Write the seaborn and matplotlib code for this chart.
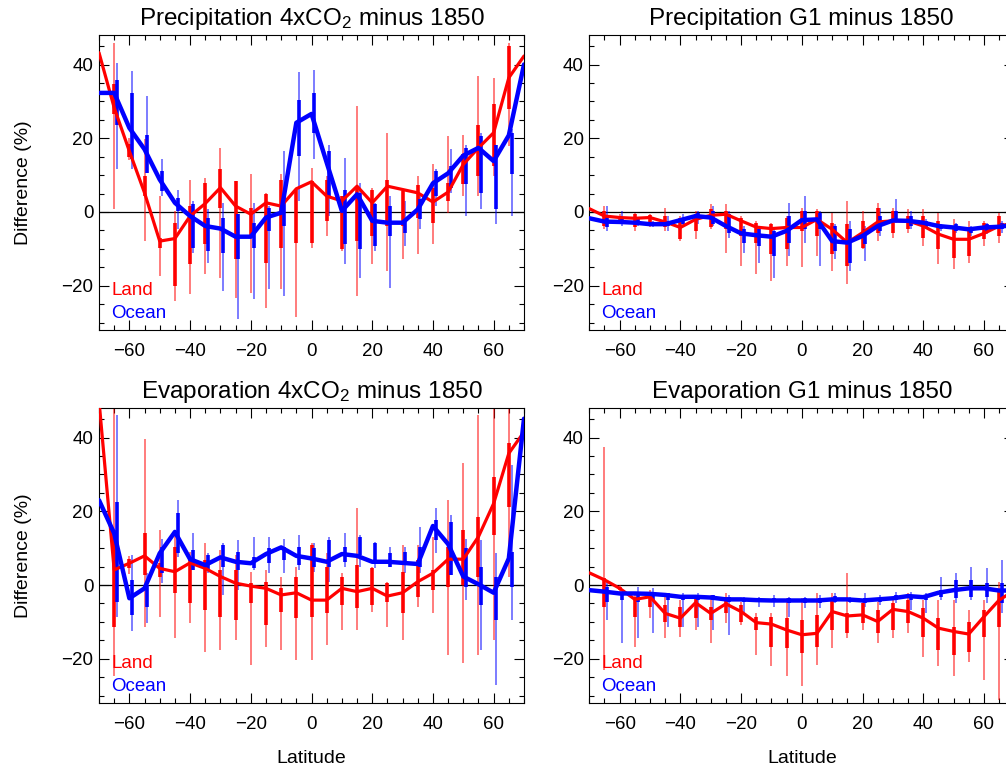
import matplotlib
matplotlib.use("Agg")
import matplotlib.pyplot as plt
import seaborn as sns
import pandas as pd
from matplotlib.ticker import MultipleLocator

# ---------------- data ----------------
lat = [-70, -65, -60, -55, -50, -45, -40, -35, -30, -25, -20, -15, -10, -5, 0,
       5, 10, 15, 20, 25, 30, 35, 40, 45, 50, 55, 60, 65, 70]
bar_lat = [-65, -60, -55, -50, -45, -40, -35, -30, -25, -20, -15, -10, -5, 0,
           5, 10, 15, 20, 25, 30, 35, 40, 45, 50, 55, 60, 65]

titles = ["Precipitation 4xCO$_\\mathregular{2}$ minus 1850", "Precipitation G1 minus 1850",
          "Evaporation 4xCO$_\\mathregular{2}$ minus 1850", "Evaporation G1 minus 1850"]
series_names = ["Land", "Ocean"]

# Panel 1: Precipitation 4xCO2
p1_land = [43.2, 28.3, 16.5, 5.2, -7.9, -7.2, -1.1, 2.3, 6.6, 1.6, -0.6, 2.5, 1.6, 6.3, 8.2,
           4.3, 3.0, 7.0, 2.5, 7.0, 6.1, 5.2, 2.7, 5.4, 12.9, 17.4, 21.5, 36.4, 42.3]
p1_ocean = [32.3, 32.3, 22.8, 17.0, 8.8, 2.5, -1.1, -3.8, -4.5, -6.7, -6.7, -1.5, -0.2, 24.2, 26.6,
            13.4, 0.3, 4.8, -2.4, -2.9, -2.9, 0.7, 7.8, 10.5, 15.3, 17.4, 13.8, 20.8, 40.0]
p1_land_thin_hi = [45.9, 20.0, 19.7, 4.3, 0.3, 8.8, 9.3, 17.4, 8.4, 10.2, 5.2, 10.2, 6.6, 12.0,
                   9.8, 3.9, 28.7, 6.6, 21.5, 6.1, 9.8, 12.9, 20.6, 21.0, 36.8, 36.4, 45.9]
p1_land_thin_lo = [0.7, 14.0, -7.9, -17.3, -24.1, -22.3, -16.9, -17.8, -23.2, -21.9, -25.9, -20.9, -28.6, -9.7,
                   -6.5, -10.6, -22.8, -14.2, -16.0, -12.8, -11.5, -8.8, -0.2, 4.3, 4.3, 9.8, 17.9]
p1_land_thick_hi = [34.6, 18.5, 9.8, -7.0, -2.9, 1.6, 7.9, 11.6, 8.4, 1.2, 4.8, 8.8, 6.1, 8.4,
                    8.8, 4.3, 7.0, 6.1, 8.8, 5.7, 7.2, 6.6, 7.9, 15.6, 23.7, 29.2, 45.0]
p1_land_thick_lo = [26.5, 15.0, 4.3, -9.7, -20.0, -14.2, -8.8, 1.2, -12.8, -6.5, -13.7, -9.7, -8.3, -8.3,
                    -2.4, -10.1, -7.9, -6.5, -3.8, -3.8, -1.5, -2.9, 3.0, 7.5, 9.8, 12.5, 27.8]
p1_ocean_thin_hi = [40.5, 38.2, 31.4, 14.3, 6.1, 3.0, 0.7, 2.5, -0.6, 2.5, 1.6, 16.5, 37.9, 38.6,
                    18.3, 14.7, 7.9, 2.5, 4.3, 3.0, 4.3, 11.6, 17.0, 18.3, 21.5, 17.0, 22.4]
p1_ocean_thin_lo = [11.6, 11.6, 10.7, 4.3, -4.7, -11.0, -13.7, -21.4, -29.1, -23.7, -20.9, -22.8, 3.0, 14.3,
                    -1.1, -14.2, -17.8, -10.6, -20.5, -9.2, -4.5, 1.6, 5.2, -1.1, 0.7, -3.3, -1.1]
p1_ocean_thick_hi = [35.9, 32.3, 21.0, 11.1, 3.9, 2.1, -1.5, -1.5, -0.6, -2.9, 1.2, 3.9, 30.5, 32.3,
                     16.5, 6.1, 5.2, 2.1, 1.6, -2.4, 3.4, 11.1, 12.5, 17.4, 20.6, 18.3, 21.5]
p1_ocean_thick_lo = [23.7, 14.3, 10.7, 5.7, 0.3, -9.7, -10.6, -11.0, -12.8, -9.7, -5.1, -3.8, 15.2, 21.5,
                     4.3, -8.8, -10.1, -9.2, -6.5, -5.8, -2.0, 4.3, 6.6, 7.5, 5.2, 0.7, 10.2]

# Panel 2: Precipitation G1
p2_land = [0.9, -1.1, -1.5, -1.7, -1.5, -2.7, -4.2, -2.0, -0.9, -0.6, -2.4, -4.1, -4.5, -4.2, -4.2,
           -2.0, -4.7, -8.3, -5.6, -2.7, -2.4, -2.4, -3.8, -6.0, -7.4, -7.4, -5.8, -3.8, -3.0]
p2_ocean = [-1.7, -2.6, -2.7, -2.9, -3.3, -3.3, -2.2, -1.1, -1.5, -3.8, -5.8, -6.3, -6.7, -5.1, -2.2,
            -2.0, -7.9, -8.3, -6.5, -3.8, -2.3, -2.4, -2.9, -3.8, -4.2, -4.7, -4.2, -4.0, -3.5]
p2_land_thin_hi = [1.6, -0.6, -0.2, -0.6, 1.2, -1.1, 0.3, 2.1, 2.1, -1.1, -2.4, -2.9, -1.1, 1.2,
                   0.9, -0.2, 3.0, 0.3, 2.5, 1.2, 0.7, 0.7, -0.2, -2.0, -2.4, -2.4, -0.2]
p2_land_thin_lo = [-4.7, -3.3, -5.1, -4.2, -5.1, -7.9, -7.4, -4.7, -11.0, -14.6, -16.9, -18.7, -14.6, -15.0,
                   -11.9, -16.0, -19.6, -10.1, -7.9, -7.0, -5.6, -9.2, -14.2, -15.5, -13.7, -9.2, -8.3]
p2_land_thick_hi = [0.3, -1.1, -0.6, -0.9, -1.1, -1.5, -0.6, 0.7, 0.3, -1.5, -2.9, -3.3, -1.5, 0.3,
                    0.3, -2.9, -3.3, -2.4, 1.2, 0.3, -1.1, -1.1, -2.4, -4.2, -4.7, -2.9, -1.1]
p2_land_thick_lo = [-3.8, -2.9, -4.2, -2.9, -4.2, -7.4, -5.1, -4.2, -4.7, -6.5, -8.3, -11.5, -10.1, -5.1,
                    -6.5, -11.5, -14.6, -9.7, -5.6, -5.6, -4.7, -7.0, -10.1, -12.4, -11.9, -7.4, -6.5]
p2_ocean_thin_hi = [1.6, 0.3, -1.5, -2.4, -1.1, -0.6, 0.3, 1.6, 0.3, -3.8, -3.8, -4.7, 2.5, 4.3,
                    0.3, -3.3, -2.4, -3.8, 1.2, 3.4, 0.3, -2.0, -3.3, -2.9, -3.8, -2.9, -2.4]
p2_ocean_thin_lo = [-5.1, -3.8, -3.8, -4.2, -5.1, -4.2, -3.3, -3.8, -7.0, -11.0, -13.7, -17.8, -11.9, -8.3,
                    -14.6, -12.8, -16.0, -13.3, -6.5, -2.9, -4.7, -4.7, -5.1, -5.6, -6.5, -6.0, -5.6]
p2_ocean_thick_hi = [-1.1, -1.5, -2.0, -2.9, -2.4, -1.5, -0.2, 0.3, -0.6, -4.7, -4.7, -5.1, -1.1, 0.3,
                     -0.2, -3.8, -4.7, -4.7, -1.1, 0.3, -1.1, -2.4, -3.6, -3.3, -4.2, -3.3, -2.9]
p2_ocean_thick_lo = [-4.2, -3.3, -3.6, -3.8, -3.8, -3.3, -2.0, -3.3, -5.6, -8.3, -9.2, -11.9, -8.3, -4.7,
                     -4.7, -10.6, -13.7, -8.8, -5.1, -2.0, -3.8, -4.2, -4.7, -5.1, -5.6, -5.1, -4.7]

# Panel 3: Evaporation 4xCO2
p3_land = [50.0, 4.1, 5.9, 7.9, 4.5, 3.6, 6.0, 4.5, 2.3, 0.5, -0.3, -0.9, -2.7, -2.1, -4.1,
           -4.1, -0.9, -1.8, -0.9, -3.0, -2.1, 0.9, 3.2, 7.0, 7.0, 13.1, 22.1, 35.7, 41.5]
p3_ocean = [23.0, 14.0, -3.6, -0.9, 8.6, 14.4, 7.0, 5.4, 7.5, 6.3, 5.9, 8.4, 10.2, 7.9, 7.2,
            6.3, 8.4, 7.9, 6.3, 6.3, 6.0, 5.7, 16.0, 11.1, 2.3, 0.2, -2.1, 7.2, 45.1]
p3_land_thin_hi = [50.0, 8.0, 39.7, 14.9, 14.9, 9.0, 11.3, 9.5, 8.1, 3.6, 4.1, 2.3, 5.0, 11.3,
                   8.6, 3.2, 20.8, 5.0, 0.9, 10.8, 10.8, 13.1, 23.0, 33.0, 46.0, 50.0, 50.0]
p3_land_thin_lo = [-24.8, 3.0, -11.3, -8.6, -14.4, -10.4, -18.1, -17.6, -14.9, -21.7, -16.7, -17.6, -20.3, -20.3,
                   -16.3, -12.2, -12.2, -7.2, -11.3, -14.9, -5.9, -7.7, -19.0, -21.2, -19.0, -14.9, 2.3]
p3_land_thick_hi = [14.9, 7.0, 14.0, 5.9, 10.4, 7.7, 6.8, 4.1, 4.1, 0.5, 0.9, -0.9, 2.3, 10.8,
                    5.0, 2.3, 5.4, 4.5, 0.5, 3.6, 6.8, 4.1, 10.4, 14.9, 18.5, 29.3, 38.4]
p3_land_thick_lo = [-11.3, 4.5, 2.7, 2.3, -2.3, -5.0, -6.8, -8.6, -9.5, -5.0, -10.8, -7.2, -9.0, -8.6,
                    -7.7, -5.4, -6.3, -5.4, -4.5, -7.7, -3.2, -1.4, -0.5, 0.0, 2.3, 13.5, 21.2]
p3_ocean_thin_hi = [46.0, 8.1, 3.2, 12.6, 23.0, 14.0, 8.6, 11.3, 12.2, 13.1, 13.1, 12.6, 13.5, 11.3,
                    13.1, 14.0, 13.5, 11.7, 10.4, 10.4, 15.8, 20.8, 19.0, 12.6, 12.2, 8.6, 32.5]
p3_ocean_thin_lo = [-8.6, -12.6, -10.4, 0.5, 7.7, 5.0, 3.2, -2.7, -1.4, 4.1, 3.2, 3.2, 4.1, 3.6,
                    0.9, 5.0, 5.0, 4.5, 5.0, 3.2, 3.2, 8.6, 2.7, -4.1, -17.6, -27.1, -9.5]
p3_ocean_thick_hi = [22.6, 1.4, 0.0, 10.4, 19.4, 9.5, 8.1, 10.8, 9.0, 7.7, 9.9, 10.4, 10.4, 9.9,
                     12.2, 10.4, 13.1, 11.3, 8.8, 9.0, 10.4, 17.6, 17.2, 9.9, 5.0, 2.3, 9.0]
p3_ocean_thick_lo = [-4.5, -8.1, -5.9, 3.2, 8.6, 4.1, 4.1, 5.0, 4.1, 4.5, 5.9, 6.8, 5.4, 5.0,
                     5.0, 6.3, 8.1, 5.9, 5.0, 5.9, 5.0, 12.2, 2.7, -0.5, -5.4, -9.5, -0.5]

# Panel 4: Evaporation G1
p4_land = [3.3, 1.4, -0.9, -3.9, -3.2, -7.7, -9.0, -4.8, -7.7, -5.1, -7.2, -10.2, -10.6, -12.2, -13.5,
           -13.1, -7.2, -8.4, -8.1, -9.9, -6.6, -7.2, -9.0, -11.7, -12.6, -13.3, -8.6, -4.1, -1.5]
p4_ocean = [-1.4, -1.8, -2.3, -2.3, -2.4, -2.7, -3.2, -3.2, -3.4, -3.9, -3.9, -4.1, -4.2, -4.2, -4.2,
            -4.2, -3.9, -3.9, -4.2, -3.9, -3.6, -3.0, -3.3, -2.1, -1.4, -0.9, -0.9, -1.5, -1.5]
p4_land_thin_hi = [37.5, 0.0, -2.3, -1.4, -2.7, -4.1, -2.7, -2.7, -2.3, -4.5, -7.7, -7.7, -3.6, -3.6,
                   -2.3, -2.3, 3.2, -4.1, -4.5, -4.1, -2.3, -4.1, -4.1, -4.1, -6.8, -4.1, 0.9]
p4_land_thin_lo = [-23.0, -1.8, -16.7, -9.0, -14.4, -14.0, -12.2, -15.8, -10.4, -10.8, -19.0, -22.1, -24.8, -27.5,
                   -21.7, -17.2, -14.4, -12.2, -15.8, -14.4, -13.1, -19.4, -22.1, -24.8, -20.8, -25.7, -31.2]
p4_land_thick_hi = [1.8, -0.5, -3.2, -1.8, -5.4, -5.9, -3.6, -5.9, -3.2, -5.4, -8.6, -8.6, -9.0, -9.5,
                    -8.1, -4.1, -7.7, -5.0, -6.8, -5.0, -4.1, -6.3, -9.0, -11.3, -9.9, -6.8, -1.4]
p4_land_thick_lo = [-5.9, -1.3, -8.6, -5.9, -9.9, -11.3, -9.0, -9.5, -7.7, -9.9, -12.2, -16.7, -17.2, -18.5,
                    -16.7, -12.2, -13.1, -10.4, -13.1, -12.2, -10.4, -14.0, -17.6, -19.0, -18.1, -14.0, -11.3]
p4_ocean_thin_hi = [0.9, -2.3, -0.5, -0.9, -2.1, -2.3, -2.3, -2.7, -2.7, -3.2, -3.2, -2.7, -3.2, -3.2,
                    -2.7, -2.3, -3.2, -2.3, -2.7, -1.8, -1.8, -2.3, 2.3, 3.2, 5.0, 4.5, 6.8]
p4_ocean_thin_lo = [-9.5, -15.8, -14.4, -13.1, -11.3, -11.3, -11.3, -12.2, -13.5, -7.7, -5.9, -5.9, -8.6, -6.3,
                    -6.3, -5.0, -5.0, -5.9, -5.4, -5.0, -6.8, -7.7, -4.1, -5.0, -4.1, -5.0, -7.7]
p4_ocean_thick_hi = [-0.5, -2.3, -1.8, -2.1, -2.3, -2.7, -2.7, -2.7, -3.2, -3.6, -3.6, -3.6, -3.6, -3.6,
                     -3.6, -3.1, -3.6, -3.6, -3.6, -2.7, -2.7, -2.7, -1.4, 1.4, 1.4, 0.5, 0.5]
p4_ocean_thick_lo = [-4.5, -4.1, -4.5, -4.1, -4.1, -4.1, -4.1, -4.1, -4.5, -4.5, -4.5, -4.5, -5.0, -5.0,
                     -5.0, -4.5, -4.5, -5.0, -4.5, -4.1, -4.1, -4.1, -3.2, -3.6, -3.2, -3.2, -5.0]

panels = [
    (p1_land, p1_ocean, (p1_land_thin_lo, p1_land_thin_hi, p1_land_thick_lo, p1_land_thick_hi),
     (p1_ocean_thin_lo, p1_ocean_thin_hi, p1_ocean_thick_lo, p1_ocean_thick_hi)),
    (p2_land, p2_ocean, (p2_land_thin_lo, p2_land_thin_hi, p2_land_thick_lo, p2_land_thick_hi),
     (p2_ocean_thin_lo, p2_ocean_thin_hi, p2_ocean_thick_lo, p2_ocean_thick_hi)),
    (p3_land, p3_ocean, (p3_land_thin_lo, p3_land_thin_hi, p3_land_thick_lo, p3_land_thick_hi),
     (p3_ocean_thin_lo, p3_ocean_thin_hi, p3_ocean_thick_lo, p3_ocean_thick_hi)),
    (p4_land, p4_ocean, (p4_land_thin_lo, p4_land_thin_hi, p4_land_thick_lo, p4_land_thick_hi),
     (p4_ocean_thin_lo, p4_ocean_thin_hi, p4_ocean_thick_lo, p4_ocean_thick_hi)),
]

# ---------------- style ----------------
sns.set_theme(style="ticks")
plt.rcParams["font.family"] = ["Liberation Sans", "DejaVu Sans"]
plt.rcParams["mathtext.fontset"] = "custom"
plt.rcParams["mathtext.rm"] = "Liberation Sans"
plt.rcParams["mathtext.it"] = "Liberation Sans:italic"
plt.rcParams["axes.edgecolor"] = "black"
plt.rcParams["axes.linewidth"] = 0.8
plt.rcParams["text.color"] = "black"
plt.rcParams["axes.labelcolor"] = "black"
plt.rcParams["xtick.color"] = "black"
plt.rcParams["ytick.color"] = "black"
plt.rcParams["xtick.labelcolor"] = "black"
plt.rcParams["ytick.labelcolor"] = "black"

RED = "#ff0000"
BLUE = "#0000ff"
W, H = 1006, 774
fig = plt.figure(figsize=(W / 100, H / 100), dpi=100)

ax_w, ax_h = 425, 295
lefts = [99, 589.3]
tops = [35, 408]
positions = [(lefts[0], tops[0]), (lefts[1], tops[0]), (lefts[0], tops[1]), (lefts[1], tops[1])]

ocean_shift = 0.9

for i, (pos, title, (land, ocean, lbars, obars)) in enumerate(zip(positions, titles, panels)):
    x0, y0 = pos
    ax = fig.add_axes([x0 / W, (H - y0 - ax_h) / H, ax_w / W, ax_h / H])
    ax.axhline(0, color="black", lw=0.9, zorder=1)

    # error bars
    blat_o = [b + ocean_shift for b in bar_lat]
    ax.vlines(bar_lat, lbars[0], lbars[1], color=RED, lw=1.2, alpha=0.6, zorder=2)
    ax.vlines(bar_lat, lbars[2], lbars[3], color=RED, lw=2.6, zorder=3)
    ax.vlines(blat_o, obars[0], obars[1], color=BLUE, lw=1.2, alpha=0.6, zorder=2)
    ax.vlines(blat_o, obars[2], obars[3], color=BLUE, lw=2.6, zorder=3)

    df = pd.DataFrame({"lat": lat * 2, "val": land + ocean,
                       "series": ["Land"] * len(lat) + ["Ocean"] * len(lat)})
    sns.lineplot(data=df[df.series == "Land"], x="lat", y="val", color=RED, lw=2.3,
                 estimator=None, sort=False, ax=ax, zorder=4, legend=False)
    sns.lineplot(data=df[df.series == "Ocean"], x="lat", y="val", color=BLUE, lw=3.2,
                 estimator=None, sort=False, ax=ax, zorder=5, legend=False)

    ax.set_xlim(-70, 70)
    ax.set_ylim(-32, 48)
    ax.xaxis.set_major_locator(MultipleLocator(20))
    ax.xaxis.set_minor_locator(MultipleLocator(5))
    ax.yaxis.set_major_locator(MultipleLocator(20))
    ax.yaxis.set_minor_locator(MultipleLocator(5))
    ax.tick_params(which="both", direction="in", top=True, right=True, width=0.8, color="black")
    ax.tick_params(which="major", length=7)
    ax.tick_params(which="minor", length=3.5)
    ax.tick_params(axis="x", labelsize=13.5, pad=9.5)
    ax.tick_params(axis="y", labelsize=13.5, pad=4)
    for s in ax.spines.values():
        s.set_color("black")
        s.set_linewidth(0.8)

    ax.set_title(title, fontsize=17.5, pad=7)
    ax.set_xlabel("Latitude" if i >= 2 else "", fontsize=14, labelpad=12)
    ax.set_ylabel("Difference (%)" if i % 2 == 0 else "", fontsize=14, labelpad=21)

    ax.text(0.029, 0.118, series_names[0], color=RED, fontsize=13.5, transform=ax.transAxes,
            ha="left", va="baseline")
    ax.text(0.029, 0.040, series_names[1], color=BLUE, fontsize=13.5, transform=ax.transAxes,
            ha="left", va="baseline")

fig.savefig("out.png", dpi=100)
